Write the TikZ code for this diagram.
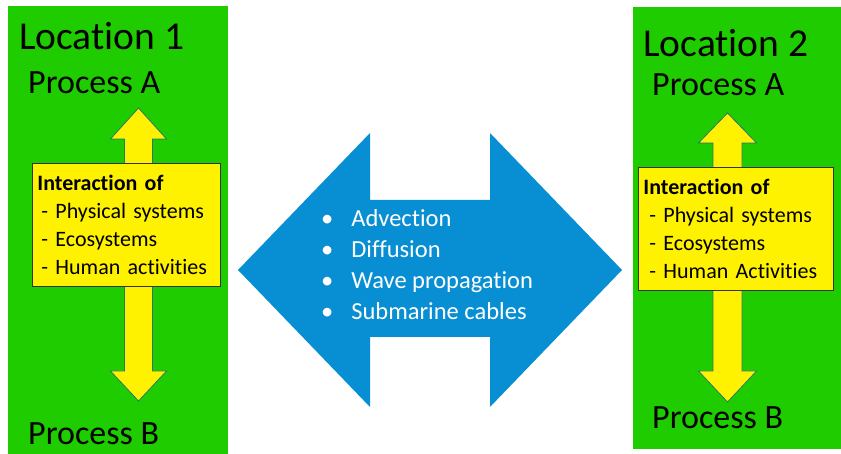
\documentclass[tikz,border=0pt]{standalone}
\usepackage{fontspec}
\setmainfont[RawFeature={-liga;-clig;-dlig}]{Carlito}
\usepackage{xcolor}
\usetikzlibrary{positioning}
\definecolor{locgreen}{RGB}{30,204,0}
\definecolor{flowblue}{RGB}{8,142,210}
\definecolor{arrowedge}{RGB}{40,120,110}
\tikzset{
  locbox/.style={fill=locgreen,draw=none},
  yarrow/.style={fill=yellow,draw=arrowedge,line width=0.8pt},
  interbox/.style={draw=black!80,fill=yellow,line width=0.8pt,align=left,
    minimum height=123,inner sep=0pt,
    font=\fontsize{22}{28}\selectfont},
  loctitle/.style={anchor=west,inner sep=0pt,font=\fontsize{39.5}{40}\selectfont},
  proc/.style={anchor=west,inner sep=0pt,font=\fontsize{34}{36}\selectfont},
}

\begin{document}
\begin{tikzpicture}[x=1pt,y=-1pt]
    \useasboundingbox (0,0) rectangle (841,454);
    \fill[white] (0,0) rectangle (841,454);

    \fill[locbox] (8,6) rectangle (228,454);
    \fill[locbox] (633,7) rectangle (841,449);

    \node[loctitle] (loc1) at (19,36) {Location 1};
    \node[proc] (procA1) at (28,83) {Process A};
    \node[proc] (procB1) at (28,434) {Process B};

    \node[loctitle] (loc2) at (643,43) {Location 2};
    \node[proc] (procA2) at (652,85) {Process A};
    \node[proc] (procB2) at (652,418) {Process B};

    \draw[yarrow,shift={(138.5,0)}] (0,108) -- (28,139) -- (14,139) -- (14,371) -- (28,371)
        -- (0,401) -- (-28,371) -- (-14,371) -- (-14,139) -- (-28,139) -- cycle;
    \draw[yarrow,shift={(727.5,0)}] (0,113) -- (29,143) -- (14.5,143) -- (14.5,371) -- (29,371)
        -- (0,402) -- (-29,371) -- (-14.5,371) -- (-14.5,143) -- (-29,143) -- cycle;

    \node[interbox,minimum width=188,text width=178,anchor=north west] (box1) at (32,163)
        {\textbf{Interaction of}\\\hspace{4pt}- Physical systems\\\hspace{4pt}- Ecosystems\\\hspace{4pt}- Human activities};
    \node[interbox,minimum width=195,text width=185,anchor=north west] (box2) at (638,167)
        {\textbf{Interaction of}\\\hspace{6pt}- Physical systems\\\hspace{6pt}- Ecosystems\\\hspace{6pt}- Human Activities};

    \fill[flowblue] (238,270) -- (370,133) -- (370,200) -- (490,200) -- (490,133) -- (622,270)
        -- (490,407) -- (490,337) -- (370,337) -- (370,407) -- cycle;
    \node[anchor=north west,inner sep=0pt,text=white,font=\fontsize{24.5}{31}\selectfont] (flows) at (321,205)
        {\begin{tabular}{@{}l@{\hspace{18pt}}l@{}}
          \textbullet & Advection\\
          \textbullet & Diffusion\\
          \textbullet & Wave propagation\\
          \textbullet & Submarine cables
        \end{tabular}};
\end{tikzpicture}
\end{document}
